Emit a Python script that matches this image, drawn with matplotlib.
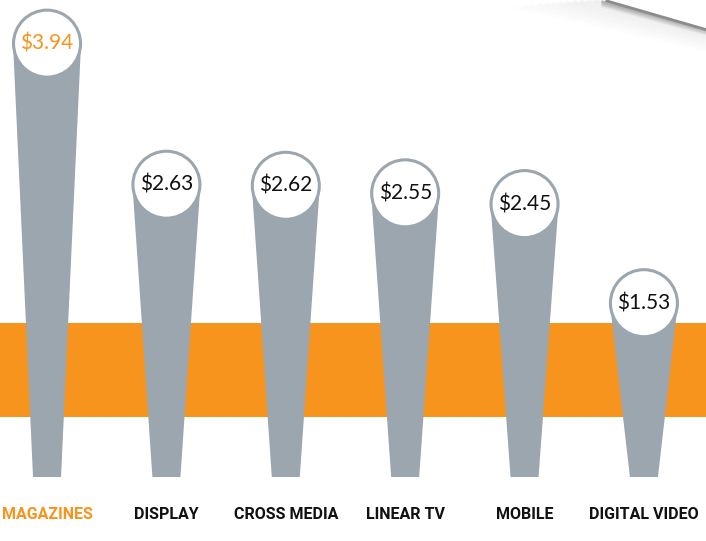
import numpy as np
import matplotlib.pyplot as plt
from matplotlib.patches import Polygon, Ellipse, Rectangle

categories = ["MAGAZINES", "DISPLAY", "CROSS MEDIA", "LINEAR TV", "MOBILE", "DIGITAL VIDEO"]
values = [3.94, 2.63, 2.62, 2.55, 2.45, 1.53]
value_labels = ["$3.94", "$2.63", "$2.62", "$2.55", "$2.45", "$1.53"]
highlight = [True, False, False, False, False, False]

ORANGE = "#F7941D"
GRAY = "#9BA6AF"

fig = plt.figure(figsize=(7.06, 5.41), dpi=100)
ax = fig.add_axes([0, 0, 1, 1])
ax.set_xlim(-0.394, 5.52)
ax.set_ylim(-0.678, 4.345)
ax.axis("off")

# pixel size of one data unit
px_x = 706 / (5.52 + 0.394)
px_y = 541 / (4.345 + 0.678)

# orange band behind the bars
ax.add_patch(Rectangle((-1, 0.474), 8, 1.346 - 0.474, color=ORANGE, zorder=1, lw=0))

bottom = -0.084
r_px = 33.5
w_bot = 14 / px_x
w_top = 34 / px_x

for i, (cat, v, lab, hl) in enumerate(zip(categories, values, value_labels, highlight)):
    # tapered bar
    ax.add_patch(Polygon([(i - w_bot, bottom), (i + w_bot, bottom),
                          (i + w_top, v), (i - w_top, v)],
                         closed=True, color=GRAY, lw=0, zorder=2))
    # white bubble at the top
    ax.add_patch(Ellipse((i, v), 2 * r_px / px_x, 2 * r_px / px_y,
                         facecolor="white", edgecolor=GRAY, lw=2.2, zorder=3))
    c = ORANGE if hl else "#111111"
    ax.text(i, v, lab, ha="center", va="center", fontsize=15, color=c,
            family=["Lato", "DejaVu Sans"], zorder=4)
    ax.text(i, -0.43, cat, ha="center", va="center", fontsize=11.5, color=c,
            family=["Roboto", "DejaVu Sans"], fontweight="bold", zorder=4)

# page curl in the top right corner
x0, y0, x1, y1 = 0.862, 1.0, 1.0, 0.948
# soft shade under the page edge
for k, a in enumerate(np.linspace(0.07, 0.0, 14)):
    off = 0.0035 * k
    ax.plot([x0 - 0.02 - 0.01 * k, x1], [y0 - off * 0.3, y1 - off], color="#666666", alpha=a,
            lw=2.5, transform=ax.transAxes, solid_capstyle="butt", zorder=5)
# darker shade right below the edge
for k, a in enumerate(np.linspace(0.35, 0.05, 6)):
    off = 0.002 * (k + 1)
    ax.plot([x0 - 0.01, x1], [y0 - off, y1 - off], color="#777777", alpha=a,
            lw=1.5, transform=ax.transAxes, solid_capstyle="butt", zorder=5)
ax.plot([x0, x1], [y0, y1], color="#8c8c8c", lw=4, transform=ax.transAxes, zorder=6)
ax.add_patch(Polygon([(x0, y0), (x1, y1), (x1, 1.0)], closed=True, color="white",
                     transform=ax.transAxes, zorder=6, lw=0))

fig.savefig("out.png", dpi=100)
